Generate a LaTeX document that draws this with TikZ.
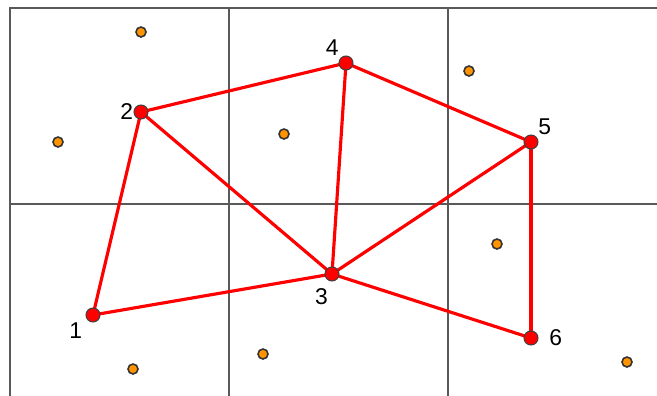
\documentclass[tikz,border=0pt]{standalone}
\usepackage{fontspec}
\setmainfont{Liberation Sans}
\begin{document}
\begin{tikzpicture}[x=0.02cm, y=-0.02cm,
			knot/.style={circle, draw=black!75, fill=red, line width=0.6pt, minimum size=0.28cm, inner sep=0pt},
			spot/.style={circle, draw=black!80, fill=orange!85!yellow, line width=0.9pt, minimum size=0.2cm, inner sep=0pt},
			kante/.style={red, line width=1.8pt},
			font=\fontsize{13}{15}\selectfont]
			%Bildbereich
			\useasboundingbox (0,0) rectangle (657,396);
			%Raster zeichnen
			\draw[color=gray!70!black, line width=0.6pt] (10,396) -- (10,8) -- (657,8);
			\foreach \x in {229,448} \draw[color=gray!70!black, line width=0.6pt] (\x,8) -- (\x,396);
			\draw[color=gray!70!black, line width=0.6pt] (10,204) -- (657,204);
			% Punkte
			\foreach \n/\x/\y in {a/141/32, b/58/142, c/284/134, d/469/71, e/497/244, f/133/369, g/263/354, h/627/362}
				\node[spot] (p\n) at (\x,\y) {};
			% Kanten
			\path (93,315) coordinate (k1) (141,112) coordinate (k2) (332,274) coordinate (k3)
				(346,63) coordinate (k4) (531,142) coordinate (k5) (531,338) coordinate (k6);
			\foreach \a/\b in {1/2, 1/3, 2/4, 2/3, 4/3, 4/5, 5/3, 5/6, 3/6}
				\draw[kante] (k\a) -- (k\b);
			% Knoten
			\node[knot, label={[inner sep=1pt, xshift=-2pt]below left:1}] (n1) at (k1) {};
			\node[knot, label={[inner sep=0pt]left:2}] (n2) at (k2) {};
			\node[knot, label={[inner sep=1pt, xshift=-6pt, yshift=-3pt]below:3}] (n3) at (k3) {};
			\node[knot, label={[inner sep=1pt]above left:4}] (n4) at (k4) {};
			\node[knot, label={[inner sep=1pt]above right:5}] (n5) at (k5) {};
			\node[knot, label={[inner sep=1pt, xshift=5pt]right:6}] (n6) at (k6) {};
		\end{tikzpicture}
\end{document}
